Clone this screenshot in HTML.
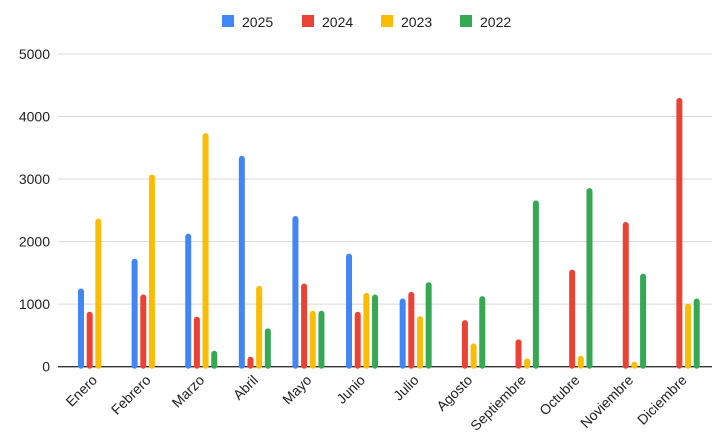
<!DOCTYPE html>
<html><head><meta charset="utf-8"><style>
body{margin:0;background:#fff;font-family:"Liberation Sans",Arial,sans-serif}
svg text{font-family:"Liberation Sans",Arial,sans-serif;fill:#222}
</style></head><body>
<svg id="chart" width="726" height="441" xmlns="http://www.w3.org/2000/svg"></svg>
<script>
const categories=["Enero","Febrero","Marzo","Abril","Mayo","Junio","Julio","Agosto","Septiembre","Octubre","Noviembre","Diciembre"];
const seriesNames=["2025","2024","2023","2022"];
const s2025=[1250,1729,2128,3372,2410,1809,1090,0,0,0,0,0];
const s2024=[878,1154,798,160,1330,878,1197,745,436,1553,2314,4298];
const s2023=[2367,3074,3734,1293,894,1181,809,372,133,176,80,1011];
const s2022=[0,0,255,612,894,1154,1351,1128,2660,2856,1489,1090];
const yTicks=[0,1000,2000,3000,4000,5000];
const colors=["#4285f4","#ea4335","#fbbc04","#34a853"];
const series=[s2025,s2024,s2023,s2022];
const svg=document.getElementById('chart');
const NS="http://www.w3.org/2000/svg";
const x0=67.2,x1=710.5,yBase=366.7,yTop=54;
const y=v=>yBase-(v/5000)*(yBase-yTop);
const band=(x1-x0)/categories.length;
function mk(t,a){const e=document.createElementNS(NS,t);for(const k in a)e.setAttribute(k,a[k]);svg.appendChild(e);return e;}
yTicks.forEach(t=>{
  const g=mk('line',{x1:58,x2:712,y1:y(t),y2:y(t),stroke:t===0?'#333':'#d9d9d9','stroke-width':t===0?1.3:1});
  
  
  const l=mk('text',{x:50,y:y(t)+5,'text-anchor':'end','font-size':14});
  l.textContent=t;
  
  
});
categories.forEach((c,i)=>{
  const cx=x0+band*(i+0.5);
  series.forEach((s,j)=>{
    const v=s[i]; if(!v) return;
    const bx=cx+(j-1.5)*8.67-3;
    const r=mk('rect',{x:bx,y:y(v),width:6,height:yBase-y(v)+2,rx:3,fill:colors[j]});
    
    
  });
  const t=mk('text',{x:cx+4,y:381,'text-anchor':'end','font-size':14,transform:`rotate(-45 ${cx+4} 381)`});
  t.textContent=c;
  
  
});
const lx=[222,302,381,460];
seriesNames.forEach((n,j)=>{
  const r=mk('rect',{x:lx[j],y:15,width:12,height:12,fill:colors[j]});
  
  
  const t=mk('text',{x:lx[j]+20,y:27,'font-size':14});
  t.textContent=n;
  
  
});
</script>
</body></html>
